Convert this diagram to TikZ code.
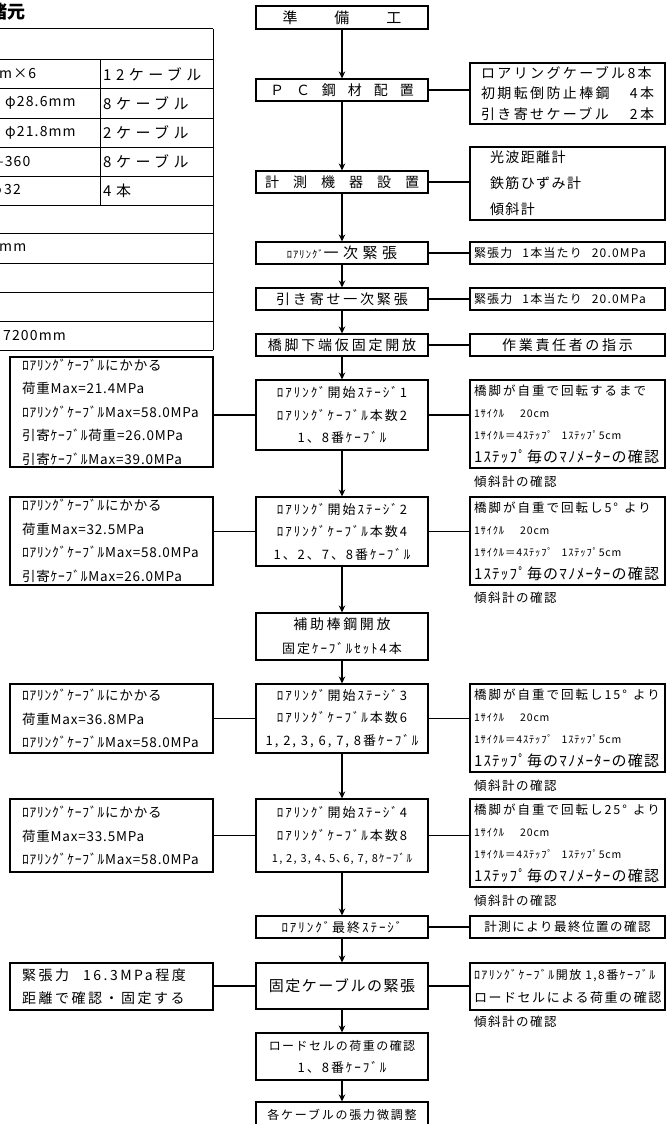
\documentclass[tikz,border=0pt]{standalone}
\usepackage{fontspec}
\setmainfont{Noto Sans CJK JP}
\usetikzlibrary{arrows.meta}
\newcommand\fsz[3]{\fontsize{#1}{#2}\selectfont\addfontfeature{LetterSpace=#3}}
\newcommand\roa{ﾛｱﾘﾝｸﾞ}
\newcommand\kbl{ｹｰﾌﾞﾙ}
\newcommand\smallk[1]{{\fsz{10.5}{22.3}{8}#1}}
\newcommand\bigk[1]{{\fsz{15}{22.3}{8}#1}}
\newcommand\cyc{\smallk{1ｻｲｸﾙ\hspace{16pt}20cm}\\\smallk{1ｻｲｸﾙ＝4ｽﾃｯﾌﾟ\hspace{9pt}1ｽﾃｯﾌﾟ5cm}\\\bigk{1ｽﾃｯﾌﾟ毎のﾏﾉﾒｰﾀｰの確認}}
\begin{document}
\begin{tikzpicture}[x=1pt,y=-1pt,
  ln/.style={line width=1.1pt},
  tl/.style={line width=1pt},
  box/.style={draw, line width=1.1pt, inner sep=0pt, align=center},
  cb/.style={box, minimum width=172},
  rb/.style={box, minimum width=195},
  blb/.style={draw, line width=1.1pt, minimum width=195, inner xsep=4pt, inner ysep=0pt, text width=187, align=left, font=\fsz{12.5}{22.3}{16}},
  alb/.style={draw, line width=1.1pt, minimum width=203, inner xsep=12pt, inner ysep=0pt, text width=179, align=left, font=\fsz{13.5}{23.5}{6}},
  arr/.style={line width=1.1pt, -{Stealth[length=7pt,width=6.5pt]}},
  captxt/.style={anchor=west, inner sep=0pt, font=\fsz{12.5}{14}{12}},
  ttxt/.style={anchor=west, inner sep=0pt, font=\fsz{14}{16}{8}},
  tkat/.style={anchor=west, inner sep=0pt, font=\fsz{15}{18}{30}},
]
\useasboundingbox (0,0) rectangle (669,1124);

% ---------- left table ----------
\node[anchor=east, inner sep=0pt, font=\bfseries\fsz{18}{20}{0}] (ttl) at (26,12) {諸元};
\foreach \yy in {29,60,88,118,147,176,205,233,263,292,321,350}
  \draw[tl] (-5,\yy) -- (213,\yy);
\draw[tl] (213,29) -- (213,350);
\draw[tl] (100,60) -- (100,205);
\node[ttxt] (t1) at (-1,74) {m×6};
\node[tkat] (t2) at (103,74) {12ケーブル};
\node[ttxt] (t3) at (5,103) {φ28.6mm};
\node[tkat] (t4) at (103,103) {8ケーブル};
\node[ttxt] (t5) at (5,132.5) {φ21.8mm};
\node[tkat] (t6) at (103,132.5) {2ケーブル};
\node[ttxt] (t7) at (-4,161.5) {–360};
\node[tkat] (t8) at (103,161.5) {8ケーブル};
\node[ttxt] (t9) at (-9,190.5) {φ\,32};
\node[tkat] (t10) at (103,190.5) {4本};
\node[ttxt] (t11) at (-1,248) {mm};
\node[ttxt] (t12) at (3,335.5) {7200mm};

% ---------- centre column ----------
\node[cb, minimum height=23, font=\fsz{15}{18}{0}] (b1) at (342,17.5) {準\hspace{37pt}備\hspace{37pt}工};
\node[cb, minimum height=22, font=\fsz{14}{18}{0}] (b2) at (342,90) {Ｐ\hspace{12pt}Ｃ\hspace{12pt}鋼\hspace{12pt}材\hspace{12pt}配\hspace{12pt}置};
\node[cb, minimum height=22, font=\fsz{14}{18}{0}] (b3) at (342,182) {計\hspace{14pt}測\hspace{14pt}機\hspace{14pt}器\hspace{14pt}設\hspace{14pt}置};
\node[cb, minimum height=22, font=\fsz{15}{18}{30}] (b4) at (342,253) {{\fsz{10.5}{18}{10}\roa{}}一次緊張};
\node[cb, minimum height=22, font=\fsz{14}{18}{20}] (b5) at (342,299) {引き寄せ一次緊張};
\node[cb, minimum height=22, font=\fsz{14}{18}{20}] (b6) at (342,345) {橋脚下端仮固定開放};
\node[cb, minimum height=70, font=\fsz{13}{22.5}{15}] (b7) at (342,415) {\roa{}開始ｽﾃｰｼﾞ1\\\roa{}\kbl{}本数2\\1、8番\kbl{}};
\node[cb, minimum height=69, font=\fsz{13}{22.5}{15}] (b8) at (342,531.5) {\roa{}開始ｽﾃｰｼﾞ2\\\roa{}\kbl{}本数4\\1、2、7、8番\kbl{}};
\node[cb, minimum height=47, font=\fsz{13}{24}{15}] (b9) at (342,636.5) {{\fsz{14}{24}{19}補助棒鋼開放}\\固定\kbl{}ｾｯﾄ4本};
\node[cb, minimum height=69, font=\fsz{13}{22.5}{15}] (b10) at (342,718.5) {\roa{}開始ｽﾃｰｼﾞ3\\\roa{}\kbl{}本数6\\1, 2, 3, 6, 7, 8番\kbl{}};
\node[cb, minimum height=73, font=\fsz{13}{22.5}{15}] (b11) at (342,835.5) {\roa{}開始ｽﾃｰｼﾞ4\\\roa{}\kbl{}本数8\\{\fsz{11}{22.5}{12}1, 2, 3, 4､5､6, 7, 8\kbl{}}};
\node[cb, minimum height=22, font=\fsz{13}{18}{15}] (b12) at (342,927) {\roa{}最終ｽﾃｰｼﾞ};
\node[cb, minimum height=46, font=\fsz{15}{18}{10}] (b13) at (342,986) {固定ケーブルの緊張};
\node[cb, minimum height=47, font=\fsz{12}{22}{12}] (b14) at (342,1056.5) {ロードセルの荷重の確認\\{\fsz{13}{22}{15}1、8番\kbl{}}};
\node[cb, minimum height=26, font=\fsz{12}{18}{15}] (b15) at (342,1115) {各ケーブルの張力微調整};

\foreach \a/\b in {b1/b2,b2/b3,b3/b4,b4/b5,b5/b6,b6/b7,b7/b8,b8/b9,b9/b10,b10/b11,b11/b12,b12/b13,b13/b14,b14/b15}
  \draw[arr] (\a.south) -- (\b.north);

% ---------- right column ----------
\node[draw, line width=1.1pt, minimum width=195, minimum height=61, inner sep=0pt, text width=173, align=left, font=\fsz{14}{20.5}{17}] (r2) at (567.5,93.5) {ロアリングケーブル8本\\初期転倒防止棒鋼\hfill 4本\\引き寄せケーブル\hfill 2本};
\node[draw, line width=1.1pt, minimum width=195, minimum height=73, inner xsep=20pt, inner ysep=0pt, text width=155, align=left, font=\fsz{14}{26}{10}] (r3) at (567.5,183.5) {光波距離計\\鉄筋ひずみ計\\傾斜計};
\node[blb, minimum height=22, font=\fsz{12}{16}{10}] (r4) at (567.5,253) {緊張力\hspace{10pt}1本当たり\hspace{10pt}20.0MPa};
\node[blb, minimum height=22, font=\fsz{12}{16}{10}] (r5) at (567.5,299) {緊張力\hspace{10pt}1本当たり\hspace{10pt}20.0MPa};
\node[rb, minimum height=22, font=\fsz{14}{18}{19}] (r6) at (567.5,345) {作業責任者の指示};
\node[blb, minimum height=88] (r7) at (567.5,424) {橋脚が自重で回転するまで\\\cyc};
\node[captxt] (c7) at (474,482) {傾斜計の確認};
\node[blb, minimum height=88] (r8) at (567.5,541) {橋脚が自重で回転し5°\hspace{6pt}より\\\cyc};
\node[captxt] (c8) at (474,598) {傾斜計の確認};
\node[blb, minimum height=88] (r10) at (567.5,728) {橋脚が自重で回転し15°\hspace{6pt}より\\\cyc};
\node[captxt] (c10) at (474,786) {傾斜計の確認};
\node[blb, minimum height=88] (r11) at (567.5,843) {橋脚が自重で回転し25°\hspace{6pt}より\\\cyc};
\node[captxt] (c11) at (474,901) {傾斜計の確認};
\node[rb, minimum height=22, font=\fsz{12.5}{18}{12}] (r12) at (567.5,927) {計測により最終位置の確認};
\node[blb, minimum height=47, font=\fsz{13}{23}{12}] (r13) at (567.5,986.5) {{\fsz{12}{23}{12}\roa{}\kbl{}開放\hspace{4pt}1,8番\kbl{}}\\ロードセルによる荷重の確認};
\node[captxt] (c13) at (474,1022) {傾斜計の確認};

\foreach \a/\b in {b2/r2,b3/r3,b4/r4,b5/r5,b6/r6,b7/r7,b8/r8,b10/r10,b11/r11,b12/r12,b13/r13}
  \draw[ln] (\a.east) -- (\a.east -| \b.west);

% ---------- left column ----------
\node[alb, minimum height=110] (a1) at (111.5,412) {\roa{}\kbl{}にかかる\\荷重Max=21.4MPa\\\roa{}\kbl{}Max=58.0MPa\\引寄\kbl{}荷重=26.0MPa\\引寄\kbl{}Max=39.0MPa};
\node[alb, minimum height=88] (a2) at (111.5,541) {\roa{}\kbl{}にかかる\\荷重Max=32.5MPa\\\roa{}\kbl{}Max=58.0MPa\\引寄\kbl{}Max=26.0MPa};
\node[alb, minimum height=69] (a3) at (111.5,718.5) {\roa{}\kbl{}にかかる\\荷重Max=36.8MPa\\\roa{}\kbl{}Max=58.0MPa};
\node[alb, minimum height=73] (a4) at (111.5,835.5) {\roa{}\kbl{}にかかる\\荷重Max=33.5MPa\\\roa{}\kbl{}Max=58.0MPa};
\node[alb, minimum height=47, font=\fsz{14}{23}{18}] (a5) at (111.5,986.5) {緊張力\hspace{14pt}16.3MPa程度\\距離で確認・固定する};

\foreach \a/\b in {b7/a1,b8/a2,b10/a3,b11/a4,b13/a5}
  \draw[ln] (\a.west) -- (\a.west -| \b.east);
\end{tikzpicture}
\end{document}
